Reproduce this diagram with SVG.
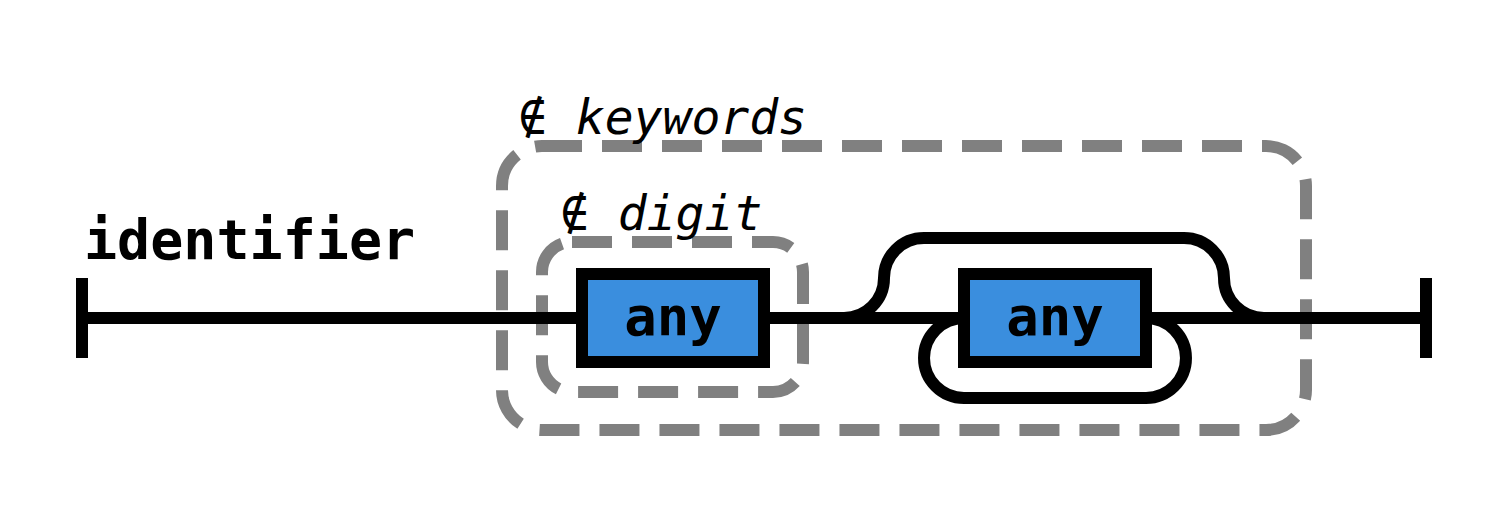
<svg xmlns="http://www.w3.org/2000/svg" width="1504" height="508" viewBox="0 0 1504 508">
<style>
.line{fill:none;stroke:#000;stroke-width:12}
.dash{fill:none;stroke:#808080;stroke-width:12;stroke-dasharray:40 20}
.box{fill:#3a8ede;stroke:#000;stroke-width:12}
.lbl{font-family:"DejaVu Sans Mono",monospace;font-weight:bold;font-size:54px;fill:#000}
.note{font-family:"DejaVu Sans Mono",monospace;font-style:oblique;font-size:48px;fill:#000}
</style>
<rect width="1504" height="508" fill="#fff"/>
<g id="groups">
<rect class="dash" x="502" y="146" width="804" height="284" rx="40"/>
<text class="note" x="518" y="134">∉ keywords</text>
<rect class="dash" x="542" y="242" width="261" height="150" rx="30"/>
<text class="note" x="560" y="230">∉ digit</text>
</g>
<g id="connectors">
<path class="line" d="M82 318H582M764 318H964M1146 318H1426"/>
<path class="line" d="M82 278V358M1426 278V358"/>
<path class="line" d="M844 318A40 40 0 0 0 884 278A40 40 0 0 1 924 238H1184A40 40 0 0 1 1224 278A40 40 0 0 0 1264 318"/>
<path class="line" d="M1146 318A40 40 0 0 1 1146 398H964A40 40 0 0 1 964 318"/>
</g>
<g id="title"><text class="lbl" x="84" y="259" style="font-size:55px">identifier</text></g>
<g id="node1">
<rect class="box" x="582" y="274" width="182" height="88"/>
<text class="lbl" x="673" y="335" text-anchor="middle">any</text>
</g>
<g id="node2">
<rect class="box" x="964" y="274" width="182" height="88"/>
<text class="lbl" x="1055" y="335" text-anchor="middle">any</text>
</g>
</svg>
